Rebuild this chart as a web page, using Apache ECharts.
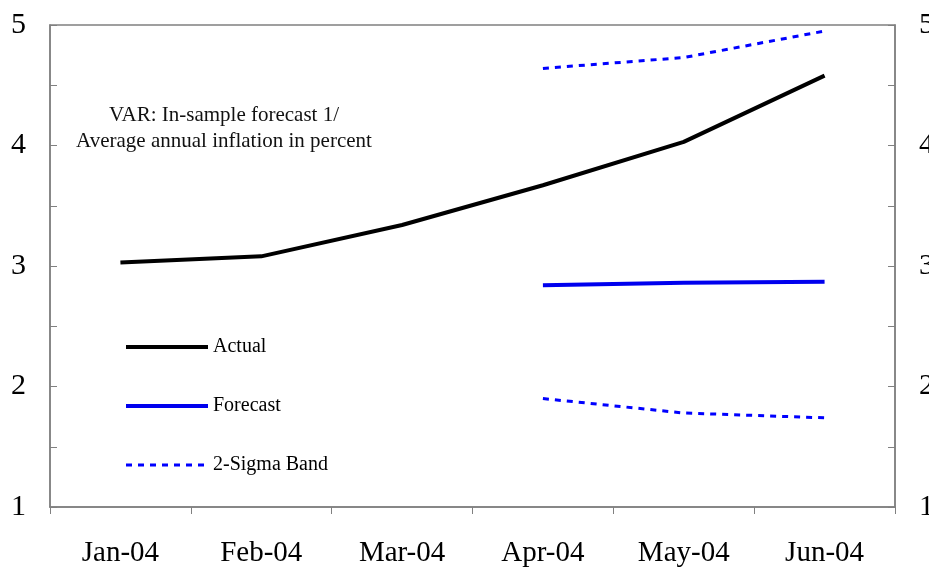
<!DOCTYPE html>
<html>
<head>
<meta charset="utf-8">
<script src="https://cdn.jsdelivr.net/npm/echarts@6/dist/echarts.min.js"></script>
<style>
  html, body { margin: 0; padding: 0; background: #fff; }
  #chart { width: 929px; height: 570px; }
</style>
</head>
<body>
<div id="chart"></div>
<script>
var months = ["Jan-04", "Feb-04", "Mar-04", "Apr-04", "May-04", "Jun-04"];
var actual = [3.03, 3.08, 3.34, 3.67, 4.03, 4.58];
var forecast = ["-", "-", "-", 2.84, 2.86, 2.87];
var upperBand = ["-", "-", "-", 4.64, 4.73, 4.95];
var lowerBand = ["-", "-", "-", 1.90, 1.78, 1.74];

var serif = "Liberation Serif";
var myChart = echarts.init(document.getElementById("chart"));

var yBase = {
  type: "value",
  min: 1,
  max: 5,
  interval: 0.5,
  axisLine: { show: true, lineStyle: { color: "#808080", width: 1.5 } },
  axisTick: { show: true, inside: true, length: 7, lineStyle: { color: "#808080" } },
  splitLine: { show: false },
  axisLabel: {
    fontFamily: serif,
    fontSize: 30,
    color: "#000",
    margin: 24,
    formatter: function (v) { return v % 1 === 0 ? String(v) : ""; }
  }
};

var option = {
  animation: false,
  backgroundColor: "#fff",
  title: {
    text: "VAR: In-sample forecast 1/\nAverage annual inflation in percent",
    left: 219,
    top: 97,
    textAlign: "center",
    textStyle: { fontFamily: serif, fontSize: 21, fontWeight: "normal", color: "#111", lineHeight: 26 }
  },
  legend: {
    orient: "vertical",
    left: 124,
    top: 337,
    padding: 0,
    itemWidth: 82,
    itemHeight: 22,
    itemGap: 39,
    itemStyle: { opacity: 0 },
    textStyle: { fontFamily: serif, fontSize: 20, color: "#000" },
    data: [
      { name: "Actual", lineStyle: { width: 4 } },
      { name: "Forecast", lineStyle: { width: 4 } },
      { name: "2-Sigma Band", lineStyle: { width: 3 } }
    ]
  },
  grid: {
    left: 50, right: 34, top: 25, bottom: 63,
    outerBoundsMode: "none",
    show: true, borderColor: "#808080", borderWidth: 1.5
  },
  xAxis: {
    type: "category",
    data: months,
    boundaryGap: true,
    axisLine: { lineStyle: { color: "#808080", width: 1.5 } },
    axisTick: { show: true, length: 7, lineStyle: { color: "#808080" } },
    axisLabel: { fontFamily: serif, fontSize: 29, color: "#000", margin: 32 }
  },
  yAxis: [
    Object.assign({}, yBase, { position: "left" }),
    Object.assign({}, yBase, { position: "right" })
  ],
  series: [
    {
      name: "Actual",
      type: "line",
      data: actual,
      symbol: "none",
      lineStyle: { color: "#000", width: 4 },
      itemStyle: { color: "#000" }
    },
    {
      name: "Forecast",
      type: "line",
      data: forecast,
      symbol: "none",
      lineStyle: { color: "#0000ee", width: 4 },
      itemStyle: { color: "#0000ee" }
    },
    {
      name: "2-Sigma Band",
      type: "line",
      data: upperBand,
      symbol: "none",
      lineStyle: { color: "#0000ff", width: 3, type: [6, 6] },
      itemStyle: { color: "#0000ff" }
    },
    {
      name: "2-Sigma Band",
      type: "line",
      data: lowerBand,
      symbol: "none",
      lineStyle: { color: "#0000ff", width: 3, type: [6, 6] },
      itemStyle: { color: "#0000ff" }
    }
  ]
};
myChart.setOption(option);
</script>
</body>
</html>
